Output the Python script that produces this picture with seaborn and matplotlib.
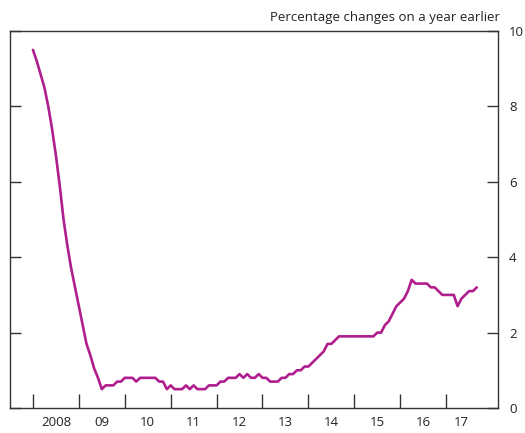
import matplotlib
matplotlib.use('Agg')
import matplotlib.pyplot as plt
import numpy as np
import pandas as pd
import seaborn as sns

# Monthly inflation, Jan 2008 to Sep 2017 (percentage change on a year earlier)
start_year = 2008
values = [9.5, 9.2, 8.85, 8.5, 8.0, 7.4, 6.7, 5.9, 5.0, 4.3, 3.7, 3.2,
          2.7, 2.2, 1.7, 1.4, 1.05, 0.8, 0.5, 0.6, 0.6, 0.6, 0.7, 0.7,
          0.8, 0.8, 0.8, 0.7, 0.8, 0.8, 0.8, 0.8, 0.8, 0.7, 0.7, 0.5,
          0.6, 0.5, 0.5, 0.5, 0.6, 0.5, 0.6, 0.5, 0.5, 0.5, 0.6, 0.6,
          0.6, 0.7, 0.7, 0.8, 0.8, 0.8, 0.9, 0.8, 0.9, 0.8, 0.8, 0.9,
          0.8, 0.8, 0.7, 0.7, 0.7, 0.8, 0.8, 0.9, 0.9, 1.0, 1.0, 1.1,
          1.1, 1.2, 1.3, 1.4, 1.5, 1.7, 1.7, 1.8, 1.9, 1.9, 1.9, 1.9,
          1.9, 1.9, 1.9, 1.9, 1.9, 1.9, 2.0, 2.0, 2.2, 2.3, 2.5, 2.7,
          2.8, 2.9, 3.1, 3.4, 3.3, 3.3, 3.3, 3.3, 3.2, 3.2, 3.1, 3.0,
          3.0, 3.0, 3.0, 2.7, 2.9, 3.0, 3.1, 3.1, 3.2]
year_ticks = list(range(2008, 2018))
year_labels = ['2008', '09', '10', '11', '12', '13', '14', '15', '16', '17']
y_ticks = [0, 2, 4, 6, 8, 10]

df = pd.DataFrame({'value': values})
df['t'] = start_year + np.arange(len(df)) / 12

sns.set_style('white')
plt.rcParams['font.family'] = ['Open Sans', 'DejaVu Sans']

fig = plt.figure(figsize=(5.25, 4.33), dpi=100)
ax = fig.add_axes([10 / 525, 25 / 433, 488 / 525, 377 / 433])

sns.lineplot(data=df, x='t', y='value', ax=ax, color='#B01E8E', linewidth=1.9)

ax.set_xlim(2007.5, 2018.13)
ax.set_ylim(0, 10)
ax.set_xlabel('')
ax.set_ylabel('')

# year boundary ticks, labels centred within each year
ax.set_xticks(year_ticks)
ax.set_xticklabels([])
ax.set_xticks([y + 0.5 for y in year_ticks[:-1]] + [2017.33], minor=True)
ax.set_xticklabels(year_labels, minor=True)
ax.tick_params(axis='x', which='major', direction='in', length=10, width=1,
               color='#333333', bottom=True)
ax.tick_params(axis='x', which='minor', length=0, pad=6, labelsize=9.5,
               labelcolor='#222222', bottom=True)

ax.set_yticks(y_ticks)
ax.yaxis.tick_right()
ax.tick_params(axis='y', which='major', direction='in', length=8, width=1,
               color='#333333', left=True, right=True, labelleft=False,
               labelright=True, pad=8, labelsize=9.5, labelcolor='#222222')

for s in ax.spines.values():
    s.set_visible(True)
    s.set_color('#333333')
    s.set_linewidth(1)

fig.text(500 / 525, 1 - 18 / 433, 'Percentage changes on a year earlier',
         ha='right', va='center', fontsize=9.5, color='#222222')

fig.savefig('out.png', dpi=100)
